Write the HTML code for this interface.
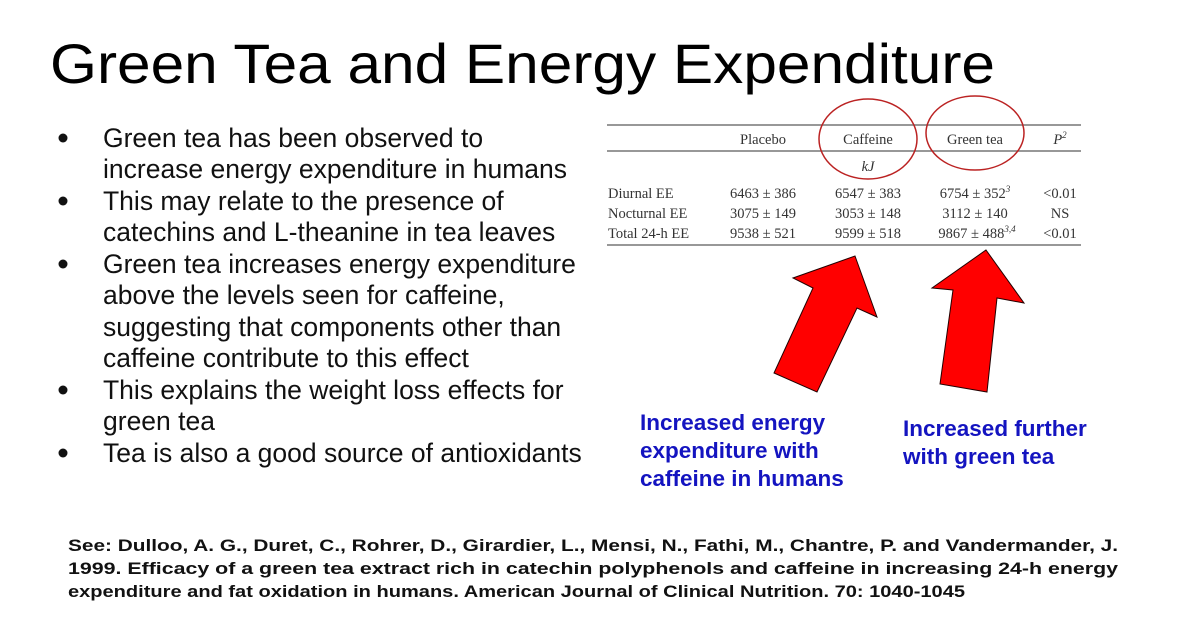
<!DOCTYPE html>
<html><head><meta charset="utf-8"><style>
html,body{margin:0;padding:0;background:#fff;}
svg{display:block;}
text{font-family:"Liberation Sans",Arial,sans-serif;}
.serif text{font-family:"Liberation Serif","DejaVu Serif",serif;font-size:14.5px;fill:#333;}
</style></head><body>
<svg width="1200" height="630" viewBox="0 0 1200 630" xmlns="http://www.w3.org/2000/svg">
<rect width="1200" height="630" fill="#fff"/>
<text x="50" y="83" font-size="56" textLength="945" lengthAdjust="spacingAndGlyphs" fill="#000">Green Tea and Energy Expenditure</text>

<g font-size="26.5" fill="#111">
<circle cx="63" cy="138" r="4.5" fill="#111"/>
<text x="103" y="147">Green tea has been observed to</text>
<text x="103" y="178">increase energy expenditure in humans</text>
<circle cx="63" cy="201" r="4.5" fill="#111"/>
<text x="103" y="210">This may relate to the presence of</text>
<text x="103" y="241">catechins and L-theanine in tea leaves</text>
<circle cx="63" cy="264" r="4.5" fill="#111"/>
<text x="103" y="273">Green tea increases energy expenditure</text>
<text x="103" y="304">above the levels seen for caffeine,</text>
<text x="103" y="336">suggesting that components other than</text>
<text x="103" y="367">caffeine contribute to this effect</text>
<circle cx="63" cy="390" r="4.5" fill="#111"/>
<text x="103" y="399">This explains the weight loss effects for</text>
<text x="103" y="430">green tea</text>
<circle cx="63" cy="453" r="4.5" fill="#111"/>
<text x="103" y="462">Tea is also a good source of antioxidants</text>
</g>

<g>
<line x1="607" y1="125" x2="1081" y2="125" stroke="#777" stroke-width="1.5"/>
<line x1="607" y1="151" x2="1081" y2="151" stroke="#777" stroke-width="1.5"/>
<line x1="607" y1="245" x2="1081" y2="245" stroke="#777" stroke-width="1.5"/>
<g class="serif" text-anchor="middle">
<text x="763" y="144">Placebo</text>
<text x="868" y="144">Caffeine</text>
<text x="975" y="144">Green tea</text>
<text x="1060" y="144" font-style="italic">P<tspan font-size="9" dy="-6">2</tspan></text>
<text x="868" y="171" font-style="italic">kJ</text>
<text x="763" y="198">6463 ± 386</text><text x="868" y="198">6547 ± 383</text><text x="975" y="198">6754 ± 352<tspan font-size="9" dy="-6" font-style="italic">3</tspan></text><text x="1060" y="198">&lt;0.01</text>
<text x="763" y="218">3075 ± 149</text><text x="868" y="218">3053 ± 148</text><text x="975" y="218">3112 ± 140</text><text x="1060" y="218">NS</text>
<text x="763" y="238">9538 ± 521</text><text x="868" y="238">9599 ± 518</text><text x="977" y="238">9867 ± 488<tspan font-size="9" dy="-6" font-style="italic">3,4</tspan></text><text x="1060" y="238">&lt;0.01</text>
</g>
<g class="serif">
<text x="608" y="198">Diurnal EE</text>
<text x="608" y="218">Nocturnal EE</text>
<text x="608" y="238">Total 24-h EE</text>
</g>
<ellipse cx="868" cy="139" rx="49" ry="40" fill="none" stroke="#b22" stroke-width="1.5"/>
<ellipse cx="975" cy="133" rx="49" ry="37" fill="none" stroke="#b22" stroke-width="1.5"/>
</g>

<polygon points="855,256 877,317 857,308 817,392 774,373 813,288 793,278" fill="#f00" stroke="#200" stroke-width="1"/>
<polygon points="986,250 1024,303 997,298 987,392 940,384 953,290 932,288" fill="#f00" stroke="#200" stroke-width="1"/>

<g font-size="22.5" font-weight="bold" fill="#1414c0">
<text x="640" y="430">Increased energy</text>
<text x="640" y="458">expenditure with</text>
<text x="640" y="486">caffeine in humans</text>
</g>
<g font-size="22.5" font-weight="bold" fill="#1414c0">
<text x="903" y="436">Increased further</text>
<text x="903" y="464">with green tea</text>
</g>

<g font-size="17" font-weight="bold" fill="#111">
<text x="68" y="551" textLength="1050" lengthAdjust="spacingAndGlyphs">See: Dulloo, A. G., Duret, C., Rohrer, D., Girardier, L., Mensi, N., Fathi, M., Chantre, P. and Vandermander, J.</text>
<text x="68" y="574" textLength="1050" lengthAdjust="spacingAndGlyphs">1999. Efficacy of a green tea extract rich in catechin polyphenols and caffeine in increasing 24-h energy</text>
<text x="68" y="597" textLength="897" lengthAdjust="spacingAndGlyphs">expenditure and fat oxidation in humans. American Journal of Clinical Nutrition. 70: 1040-1045</text>
</g>
</svg>
</body></html>
